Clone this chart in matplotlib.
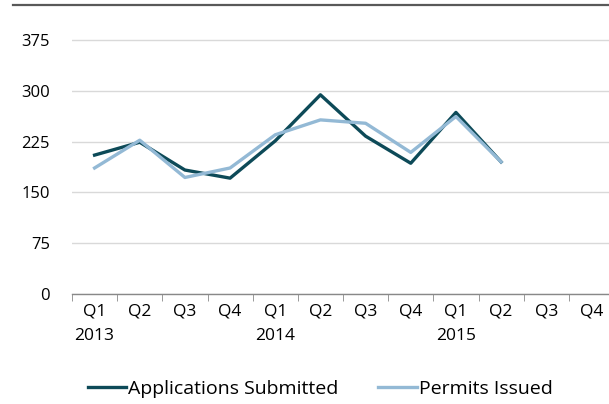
import matplotlib
matplotlib.use('Agg')
import matplotlib.pyplot as plt
from matplotlib.lines import Line2D
import numpy as np

# quarter labels (Q + year)
quarters = ['Q1', 'Q2', 'Q3', 'Q4', 'Q1', 'Q2', 'Q3', 'Q4', 'Q1', 'Q2', 'Q3', 'Q4']
years = ['2013', '', '', '', '2014', '', '', '', '2015', '', '', '']
applications = [205, 224, 183, 171, 226, 294, 233, 193, 268, 195]
permits = [186, 227, 172, 186, 235, 257, 252, 209, 262, 195]
y_ticks = [0, 75, 150, 225, 300, 375]

plt.rcParams['font.family'] = ['Open Sans', 'DejaVu Sans']

fig = plt.figure(figsize=(6.09, 4.04), dpi=100)
ax = fig.add_axes([72 / 609, 110 / 404, 542 / 609, 271 / 404])

x = np.arange(len(applications))
ax.plot(x, applications, color='#0d4a58', linewidth=2.4, label='Applications Submitted', zorder=3)
ax.plot(x, permits, color='#93b9d5', linewidth=2.4, label='Permits Issued', zorder=4)

ax.set_xlim(-0.5, len(quarters) - 0.5)
ax.set_ylim(0, 400)
ax.set_yticks(y_ticks)
ax.yaxis.grid(True, color='#d9d9d9', linewidth=1)
ax.set_axisbelow(True)
ax.tick_params(axis='y', length=0, labelsize=12, pad=16, colors='black')

labels = [q + '\n' + y if y else q + '\n' for q, y in zip(quarters, years)]
ax.set_xticks(np.arange(len(quarters)))
ax.set_xticklabels(labels, fontsize=12.5, linespacing=1.7)
ax.set_xticks(np.arange(-0.5, len(quarters), 1), minor=True)
ax.tick_params(axis='x', which='major', length=0, pad=7)
ax.tick_params(axis='x', which='minor', length=5, color='#888888', direction='out')

for s in ['top', 'right', 'left']:
    ax.spines[s].set_visible(False)
ax.spines['bottom'].set_color('#888888')
ax.spines['bottom'].set_linewidth(1)

fig.legend(loc='center', bbox_to_anchor=(320 / 609, 1 - 389 / 404), ncol=2, frameon=False,
           fontsize=14, handlelength=2.0, handletextpad=0.1, columnspacing=2.0)

# dark border line across the top
fig.add_artist(Line2D([13 / 609, 1], [1 - 5 / 404, 1 - 5 / 404], color='#595959', linewidth=1.6))

plt.savefig('out.png', dpi=100)
